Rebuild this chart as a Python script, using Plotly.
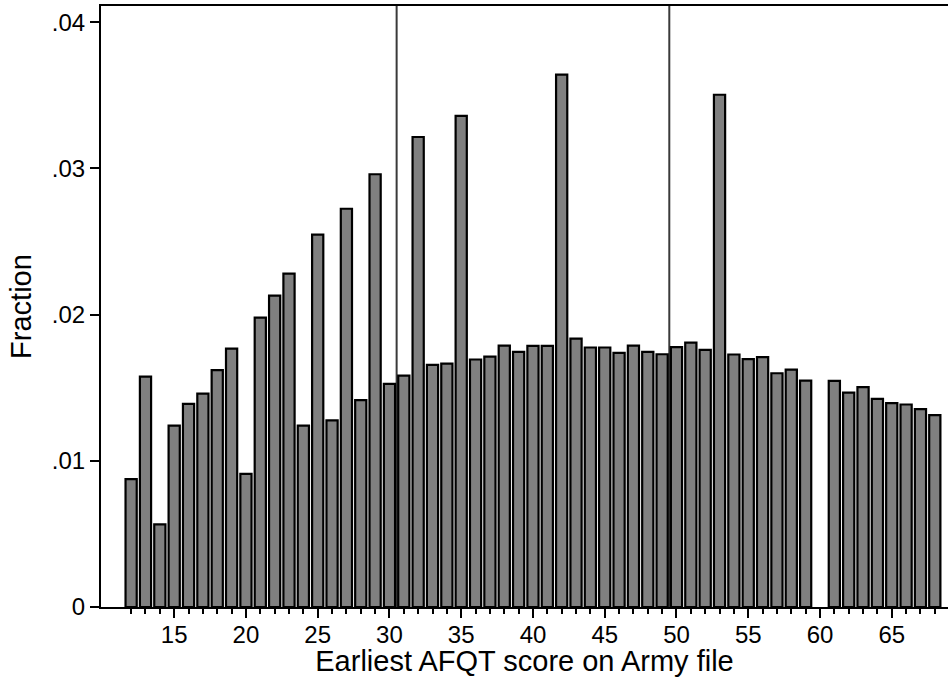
import plotly.graph_objects as go

# AFQT score (integer bins) and fraction of recruits in each bin
scores = list(range(12, 69))
fractions = [
    0.00875, 0.01576, 0.00565, 0.01241, 0.01390, 0.01460, 0.01620, 0.01768,  # 12-19
    0.00911, 0.01980, 0.02130, 0.02280, 0.01241, 0.02547, 0.01276, 0.02724,  # 20-27
    0.01415, 0.02960, 0.01526, 0.01583, 0.03215, 0.01656, 0.01665, 0.03360,  # 28-35
    0.01693, 0.01713, 0.01788, 0.01745, 0.01786, 0.01786, 0.03641, 0.01836,  # 36-43
    0.01775, 0.01775, 0.01738, 0.01788, 0.01745, 0.01729, 0.01777, 0.01809,  # 44-51
    0.01759, 0.03504, 0.01727, 0.01695, 0.01709, 0.01599, 0.01624, 0.01549,  # 52-59
    None,    0.01547, 0.01467, 0.01504, 0.01424, 0.01394, 0.01385, 0.01353,  # 60-67
    0.01312,                                                                 # 68
]

# category cutoffs marked with vertical lines
cutoffs = [30.5, 49.5]

y_tickvals = [0, 0.01, 0.02, 0.03, 0.04]
y_ticktext = ["0", ".01", ".02", ".03", ".04"]
x_tickvals = [15, 20, 25, 30, 35, 40, 45, 50, 55, 60, 65]

FONT = "Liberation Sans, Arial, Helvetica, sans-serif"

fig = go.Figure(
    go.Bar(
        x=scores,
        y=fractions,
        width=0.78,
        marker=dict(color="#808080", line=dict(color="black", width=2.2)),
        hovertemplate="Score %{x}<br>Fraction %{y:.4f}<extra></extra>",
    )
)

for c in cutoffs:
    fig.add_shape(
        type="line", x0=c, x1=c, xref="x", y0=0, y1=1, yref="paper",
        line=dict(color="#3a3a3a", width=2), layer="below",
    )

fig.update_layout(
    width=948,
    height=677,
    plot_bgcolor="white",
    paper_bgcolor="white",
    font=dict(family=FONT, size=24, color="black"),
    margin=dict(l=101, r=0, t=6, b=70),
    showlegend=False,
    xaxis=dict(
        range=[9.9, 68.92],
        showgrid=False,
        zeroline=False,
        showline=True,
        linecolor="black",
        linewidth=2,
        mirror=True,
        ticks="outside",
        ticklen=9,
        tickwidth=1.5,
        tickcolor="black",
        tickvals=x_tickvals,
        tickfont=dict(size=24),
        ticklabelstandoff=-4,
        minor=dict(
            ticks="outside", ticklen=5, tickwidth=1.5, tickcolor="black",
            tickvals=scores, showgrid=False,
        ),
        title=dict(text="Earliest AFQT score on Army file", standoff=2),
    ),
    yaxis=dict(
        range=[0, 0.04111],
        showgrid=False,
        zeroline=False,
        showline=True,
        linecolor="black",
        linewidth=2,
        ticks="outside",
        ticklen=9,
        tickwidth=1.5,
        tickcolor="black",
        tickvals=y_tickvals,
        ticktext=y_ticktext,
        tickfont=dict(size=24),
        title=dict(text="Fraction", standoff=12),
    ),
)

# drop the default page margin so the figure sits at the window corner
fig.write_html(
    "out.html",
    config={"displayModeBar": False},
    post_script="document.body.style.margin = '0';",
)
